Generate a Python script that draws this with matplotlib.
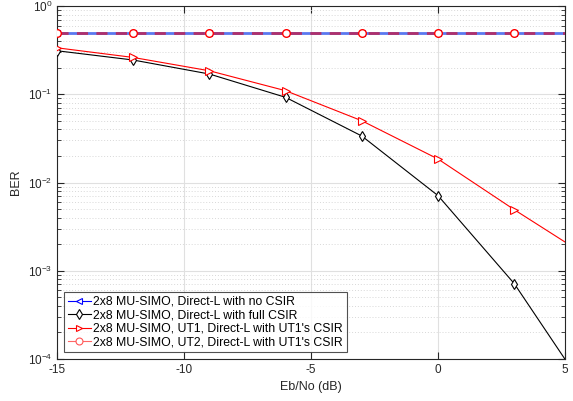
import numpy as np
import matplotlib
matplotlib.use("Agg")
import matplotlib.pyplot as plt
from matplotlib.ticker import LogLocator, NullFormatter
from matplotlib.lines import Line2D

# Eb/No points (dB); the last one lies past the right edge and is clipped
ebno = [-15, -12, -9, -6, -3, 0, 3, 6]

ber_no_csir = [0.5, 0.5, 0.5, 0.5, 0.5, 0.5, 0.5, 0.5]
ber_full_csir = [0.312, 0.245, 0.170, 0.0925, 0.0337, 0.00711, 7.16e-4, 3.7e-5]
ber_ut1 = [0.337, 0.262, 0.185, 0.110, 0.0502, 0.0185, 0.00493, 1.39e-3]
ber_ut2 = [0.5, 0.5, 0.5, 0.5, 0.5, 0.5, 0.5, 0.5]

labels = [
    "2x8 MU-SIMO, Direct-L with no CSIR",
    "2x8 MU-SIMO, Direct-L with full CSIR",
    "2x8 MU-SIMO, UT1, Direct-L with UT1's CSIR",
    "2x8 MU-SIMO, UT2, Direct-L with UT1's CSIR",
]

plt.rcParams["font.family"] = ["Liberation Sans", "DejaVu Sans"]
plt.rcParams["axes.unicode_minus"] = False
txt = "#262626"

fig = plt.figure(figsize=(5.73, 4.01), dpi=100)
ax = fig.add_axes([0.0995, 0.1047, 0.8866, 0.880])

ax.semilogy(ebno, ber_no_csir, color="#5a78f0", lw=2.0, marker="<", ms=5,
            mfc="white", mec="blue", mew=0.8, zorder=3)
ax.semilogy(ebno, ber_full_csir, color="black", lw=0.8, marker="d", ms=5.5,
            mfc="white", mec="black", mew=0.8, zorder=4)
ax.semilogy(ebno, ber_ut1, color="red", lw=0.8, marker=">", ms=6,
            mfc="white", mec="red", mew=0.8, zorder=4)
ax.semilogy(ebno, ber_ut2, color="#b0306a", lw=2.0,
            ls=(0, (4, 3)), zorder=4)
ax.semilogy(ebno, ber_ut2, ls="none", marker="o", ms=5.5, mfc="white",
            mec="red", mew=1.0, zorder=5)

ax.set_xlim(-15, 5)
ax.set_ylim(1e-4, 1)
ax.set_xticks([-15, -10, -5, 0, 5])
ax.yaxis.set_major_locator(LogLocator(base=10, numticks=10))
ax.yaxis.set_minor_locator(LogLocator(base=10, subs=np.arange(2, 10), numticks=50))
ax.yaxis.set_minor_formatter(NullFormatter())

ax.grid(True, which="major", color="#e0e0e0", lw=0.8, ls="-")
ax.grid(True, which="minor", axis="y", color="#d8d8d8", lw=0.7, ls=(0, (1, 2)))
ax.set_axisbelow(True)

ax.tick_params(which="both", direction="in", top=True, right=True,
               colors=txt, labelsize=8.5)
ax.tick_params(which="major", length=5)
ax.tick_params(which="minor", length=3)
for s in ax.spines.values():
    s.set_color(txt)
    s.set_linewidth(0.8)

ax.set_xlabel("Eb/No (dB)", fontsize=9, color=txt)
ax.set_ylabel("BER", fontsize=9, color=txt)

# legend handles drawn with lighter colours, like the original
handles = [
    Line2D([], [], color="blue", lw=0.8, marker="<", ms=5, mfc="white", mec="blue", mew=0.8),
    Line2D([], [], color="black", lw=0.8, marker="d", ms=5, mfc="white", mec="black", mew=0.8),
    Line2D([], [], color="red", lw=0.8, marker=">", ms=5, mfc="white", mec="red", mew=0.8),
    Line2D([], [], color="#ff6666", lw=0.8, marker="o", ms=5, mfc="white", mec="#ff5555", mew=0.8),
]
leg = ax.legend(handles, labels, loc="lower left", bbox_to_anchor=(0.014, 0.02),
                fontsize=8.8, frameon=True, fancybox=False, handlelength=1.9,
                handletextpad=0.2, borderpad=0.3, labelspacing=0.12,
                borderaxespad=0)
leg.get_frame().set_edgecolor(txt)
leg.get_frame().set_linewidth(0.8)
for t in leg.get_texts():
    t.set_color("black")

fig.savefig("out.png", dpi=100)
